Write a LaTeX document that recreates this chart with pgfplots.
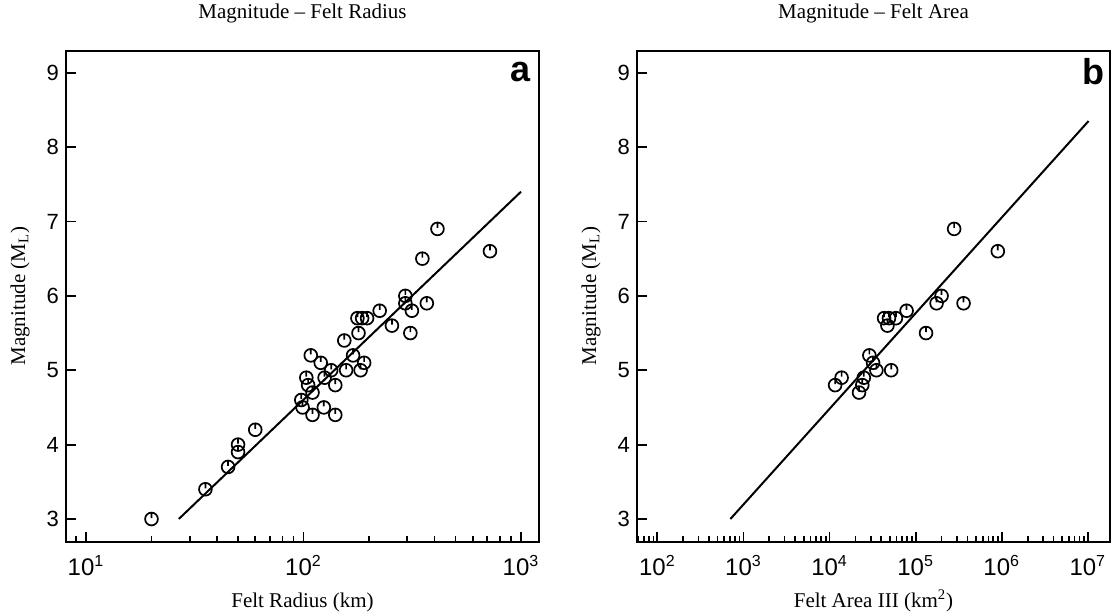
\documentclass[border=0pt]{standalone}
\usepackage{fontspec}
\setmainfont{Liberation Serif}
\setsansfont{Liberation Sans}
\usepackage{pgfplots}
\pgfplotsset{compat=1.18}

\pgfdeclareplotmark{tcirc}{%
  \pgfpathcircle{\pgfpointorigin}{\pgfplotmarksize}%
  \pgfpathmoveto{\pgfpoint{0pt}{\pgfplotmarksize}}%
  \pgfpathlineto{\pgfpoint{0pt}{0.15\pgfplotmarksize}}%
  \pgfusepathqstroke}

\pgfplotsset{
  every axis/.append style={
    scale only axis, width=236.5pt, height=245.5pt,
    anchor=south west,
    ymin=2.695, ymax=9.296,
    ytick={3,4,5,6,7,8,9}, yticklabels={3,4,5,6,7,8,9},
    tick align=inside, xtick pos=bottom, ytick pos=left,
    major tick length=5pt, minor tick length=3pt,
    axis line style={line width=1pt},
    every tick/.style={line width=0.9pt, black},
    yticklabel style={font=\sffamily\fontsize{11}{13}\selectfont},
    xticklabel style={font=\sffamily\fontsize{12}{14}\selectfont, anchor=base, yshift=-17pt},
    xlabel style={at={(axis description cs:0.5,0)}, anchor=base, yshift=-33pt, font=\fontsize{10.5}{12}\selectfont},
    ylabel style={at={(axis description cs:-0.097,0.5)}, anchor=center, font=\fontsize{10.5}{12}\selectfont},
    clip=false,
  },
}

\begin{document}
\begin{tikzpicture}
\useasboundingbox (0,0) rectangle (559.5pt,306.5pt);

\begin{axis}[xmode=log, at={(33pt,35.65pt)},
  xmin=8.09, xmax=1210,
  xtick={10,100,1000},
  xticklabels={10\textsuperscript{1},10\textsuperscript{2},10\textsuperscript{3}},
  minor xtick={9,20,30,40,50,60,70,80,90,200,300,400,500,600,700,800,900},
  xlabel={Felt Radius (km)},
  ylabel={Magnitude (M\textsubscript{L})},
]
\addplot[no marks, black, line width=1pt] coordinates {(26.7,3.0) (1000,7.4)};
\addplot[only marks, mark=tcirc, mark size=3.2pt, mark options={line width=0.85pt, black}] table {
R M
20 3.0
35.4 3.4
45 3.7
50 4.0
50 3.9
60 4.2
97.7 4.6
99 4.5
103 4.9
105 4.8
108 5.2
110 4.7
110 4.4
120 5.1
124 4.5
125 4.9
134 5.0
140 4.8
140 4.4
154 5.4
157 5.0
169 5.2
177 5.7
179 5.5
183 5.0
186 5.7
190 5.1
196 5.7
224 5.8
255 5.6
294 6.0
294 5.9
310 5.5
315 5.8
352 6.5
369 5.9
413 6.9
720 6.6
};
\node[font=\sffamily\bfseries\fontsize{18}{18}\selectfont] at (rel axis cs:0.96,0.957) {a};
\node[anchor=base, yshift=16pt, font=\fontsize{10.5}{12}\selectfont] at (rel axis cs:0.5,1) {Magnitude -- Felt Radius};
\end{axis}

\begin{axis}[xmode=log, at={(318.5pt,35.65pt)},
  xmin=58, xmax=1.81e7,
  xtick={1e2,1e3,1e4,1e5,1e6,1e7},
  xticklabels={10\textsuperscript{2},10\textsuperscript{3},10\textsuperscript{4},10\textsuperscript{5},10\textsuperscript{6},10\textsuperscript{7}},
  minor xtick={60,70,80,90,200,300,400,500,600,700,800,900,
    2000,3000,4000,5000,6000,7000,8000,9000,
    2e4,3e4,4e4,5e4,6e4,7e4,8e4,9e4,
    2e5,3e5,4e5,5e5,6e5,7e5,8e5,9e5,
    2e6,3e6,4e6,5e6,6e6,7e6,8e6,9e6},
  xlabel={Felt Area III (km\textsuperscript{2})},
  ylabel={Magnitude (M\textsubscript{L})},
]
\addplot[no marks, black, line width=1pt] coordinates {(705,3.0) (1.02e7,8.35)};
\addplot[only marks, mark=tcirc, mark size=3.2pt, mark options={line width=0.85pt, black}] table {
A M
1.16e4 4.8
1.38e4 4.9
2.2e4 4.7
2.4e4 4.8
2.5e4 4.9
2.9e4 5.2
3.2e4 5.1
3.5e4 5.0
5.2e4 5.0
4.3e4 5.7
4.9e4 5.7
4.7e4 5.6
5.9e4 5.7
7.85e4 5.8
1.32e5 5.5
1.75e5 5.9
2.0e5 6.0
2.8e5 6.9
3.6e5 5.9
9.0e5 6.6
};
\node[font=\sffamily\bfseries\fontsize{18}{18}\selectfont] at (rel axis cs:0.966,0.957) {b};
\node[anchor=base, yshift=16pt, font=\fontsize{10.5}{12}\selectfont] at (rel axis cs:0.5,1) {Magnitude -- Felt Area};
\end{axis}
\end{tikzpicture}
\end{document}
